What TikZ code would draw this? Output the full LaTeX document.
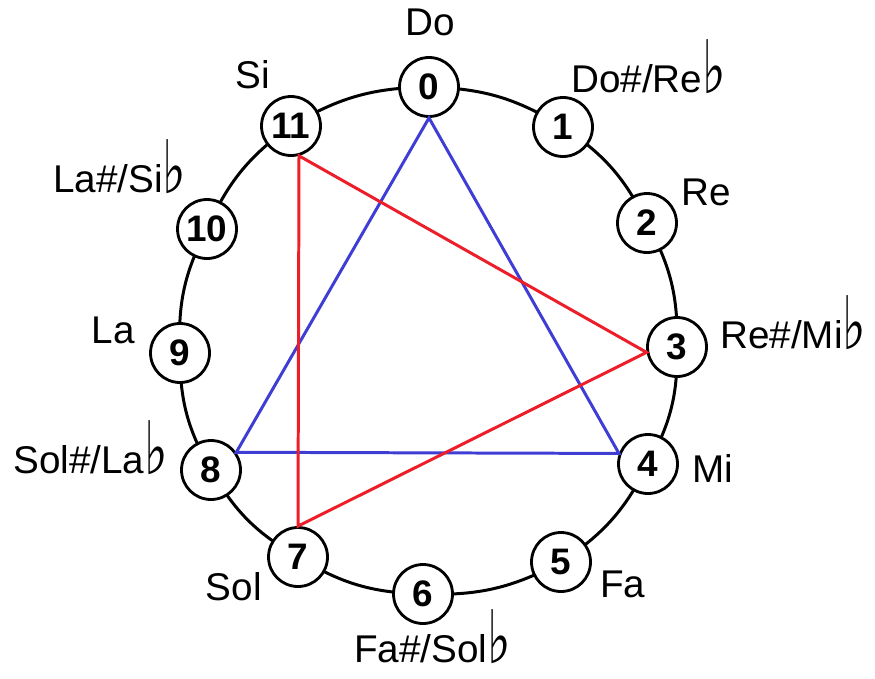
\documentclass[tikz,border=0pt]{standalone}
\usepackage{fontspec}
\setmainfont{Liberation Sans}
\newfontfamily\symfont{DejaVu Sans}
\usetikzlibrary{positioning, backgrounds}
\definecolor{TriBlue}{RGB}{62, 62, 212}
\definecolor{TriRed}{RGB}{236, 30, 42}
\newcommand{\flt}{\raisebox{-0.05em}{\scalebox{0.95}[1.4]{\symfont\fontsize{30}{30}\selectfont ♭}}}

\begin{document}
\begin{tikzpicture}[
  x=0.02cm, y=-0.02cm,
  every node/.style={font=\fontsize{22}{25}\selectfont},
  note/.style={inner sep=0pt},
  pc/.style={circle, draw=black, line width=1.6pt, fill=white, inner sep=0pt,
             minimum size=1.18cm, font=\fontsize{21}{24}\selectfont\bfseries},
  ring/.style={line width=1.7pt, bend left=15},
  tri/.style={line width=1.7pt, line join=miter}
]
  \useasboundingbox (0,0) rectangle (875,679);

  %% Pitch classes
  \node[pc] (n0)  at (429, 87)  {0};
  \node[pc] (n1)  at (563, 127) {1};
  \node[pc] (n2)  at (647, 223) {2};
  \node[pc] (n3)  at (677, 347) {3};
  \node[pc] (n4)  at (648, 464) {4};
  \node[pc] (n5)  at (561, 562) {5};
  \node[pc] (n6)  at (423, 594) {6};
  \node[pc] (n7)  at (298, 557) {7};
  \node[pc] (n8)  at (211, 470) {8};
  \node[pc] (n9)  at (180, 353) {9};
  \node[pc] (n10) at (207, 229) {10};
  \node[pc] (n11) at (291, 126) {11};

  %% Ring (behind the circles)
  \begin{scope}[on background layer]
    \draw[ring] (n0.center) to (n1.center) to (n2.center) to (n3.center)
                to (n4.center) to (n5.center) to (n6.center) to (n7.center)
                to (n8.center) to (n9.center) to (n10.center) to (n11.center)
                to (n0.center);
  \end{scope}

  %% Triangles
  \draw[tri, TriBlue] (n0.south) -- (n4.160) -- (n8.35) -- cycle;
  \draw[tri, TriRed]  (n11.285) -- (n3.190) -- (n7.north) -- cycle;

  %% Note names
  \node[note, anchor=base west] (do)   at (405, 36)  {Do};
  \node[note, anchor=base west] (dos)  at (571, 92)  {Do\#/Re\flt};
  \node[note, anchor=base west] (re)   at (681, 205) {Re};
  \node[note, anchor=base west] (res)  at (720, 348) {Re\#/Mi\flt};
  \node[note, anchor=base west] (mi)   at (692, 482) {Mi};
  \node[note, anchor=base west] (fa)   at (600, 597) {Fa};
  \node[note, anchor=base west] (fas)  at (354, 662) {Fa\#/Sol\flt};
  \node[note, anchor=base east] (sol)  at (262, 600) {Sol};
  \node[note, anchor=base west] (sols) at (13, 473)  {Sol\#/La\flt};
  \node[note, anchor=base east] (la)   at (135, 343) {La};
  \node[note, anchor=base west] (las)  at (53, 192)  {La\#/Si\flt};
  \node[note, anchor=base west] (si)   at (235, 89)  {Si};
\end{tikzpicture}
\end{document}
